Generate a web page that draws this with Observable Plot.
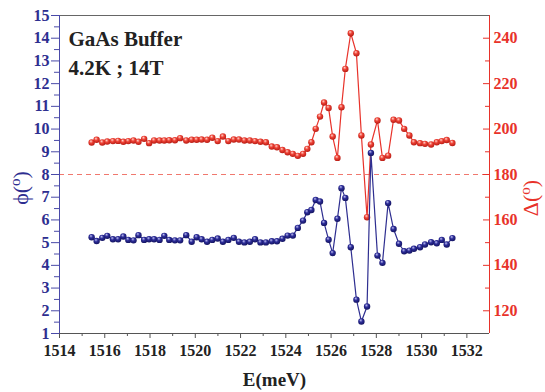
<!DOCTYPE html>
<html><head><meta charset="utf-8">
<script src="https://cdn.jsdelivr.net/npm/d3@7"></script>
<script src="https://cdn.jsdelivr.net/npm/@observablehq/plot@0.6"></script>
<style>body{margin:0;background:#fff} svg{display:block}</style>
</head><body><div id="chart"></div>
<script>
// E (meV)
const energy = [1515.42,1515.64,1515.89,1516.11,1516.36,1516.59,1516.82,1517.04,1517.27,1517.49,
1517.74,1517.96,1518.18,1518.42,1518.63,1518.85,1519.10,1519.33,1519.60,1519.84,
1520.06,1520.28,1520.52,1520.75,1520.99,1521.22,1521.46,1521.70,1521.93,1522.17,
1522.41,1522.64,1522.88,1523.12,1523.38,1523.61,1523.85,1524.08,1524.31,1524.53,
1524.76,1524.95,1525.13,1525.32,1525.51,1525.69,1525.89,1526.07,1526.28,1526.46,
1526.63,1526.87,1527.12,1527.34,1527.59,1527.76,1528.05,1528.27,1528.52,1528.76,
1529.00,1529.23,1529.46,1529.66,1529.93,1530.15,1530.42,1530.67,1530.89,1531.11,1531.36];
// phi (deg), left axis
const phi = [5.24,5.07,5.21,5.30,5.15,5.15,5.27,5.12,5.10,5.33,
5.12,5.15,5.15,5.12,5.30,5.12,5.10,5.10,5.33,5.04,
5.24,5.15,5.04,5.12,5.18,5.04,5.12,5.21,5.04,5.01,
5.04,5.15,5.01,5.01,5.06,5.06,5.17,5.31,5.31,5.65,
5.97,6.34,6.44,6.88,6.81,5.87,5.13,4.54,6.05,7.40,
6.97,4.80,2.49,1.53,2.19,8.95,4.43,4.11,6.74,5.60,
4.95,4.62,4.65,4.73,4.80,4.92,5.02,4.97,5.12,4.92,5.20];
// Delta (deg), right axis
const delta = [194.1,195.3,194.1,194.5,194.7,194.8,194.4,194.7,195.0,194.4,
195.7,193.8,195.0,195.0,195.0,195.1,195.1,196.0,195.0,195.3,
195.3,195.4,195.3,196.2,194.7,196.7,194.7,195.4,195.4,195.0,
195.0,194.7,194.4,194.2,192.3,192.0,190.8,189.8,189.1,188.2,
189.1,191.3,194.2,200.1,205.5,211.7,209.3,196.7,187.3,209.6,
226.5,242.2,233.4,197.2,161.2,193.2,203.8,187.3,188.3,204.1,
203.8,200.1,197.2,194.2,193.8,193.5,193.2,194.2,194.7,195.2,193.9];

const xTicks = [1514,1516,1518,1520,1522,1524,1526,1528,1530,1532];
const xMinor = [1515,1517,1519,1521,1523,1525,1527,1529,1531];
const phiTicks = [1,2,3,4,5,6,7,8,9,10,11,12,13,14,15];
const deltaTicks = [120,140,160,180,200,220,240];
const deltaMinor = [130,150,170,190,210,230];
const refLine = [8];
const titleLines = ["GaAs Buffer\n4.2K ; 14T"];
const xLabel = "E(meV)";

// Right scale (Delta) mapped onto the left (phi) scale: 180° <-> 8°, 10° per unit
const toLeft = d => 8 + (d - 180) / 10;
const fromLeft = l => String(Math.round(180 + (l - 8) * 10));

const rows = energy.map((e, i) => ({e, phi: phi[i], delta: delta[i]}));

const navy = "#2e2e90", navyAxis = "#4a4aa8", red = "#e8322a";
const font = "'Liberation Serif', 'Times New Roman', serif";

const chart = Plot.plot({
  width: 545, height: 392,
  marginLeft: 59, marginRight: 56, marginTop: 15, marginBottom: 59,
  style: {fontFamily: font, background: "#fff"},
  x: {domain: [1514, 1533]},
  y: {domain: [1, 15]},
  marks: [
    Plot.ruleY(refLine, {stroke: "#f0786e", strokeDasharray: "5,4", strokeWidth: 1}),
    Plot.line(rows, {x: "e", y: d => toLeft(d.delta), stroke: red, strokeWidth: 1.2}),
    Plot.dot(rows, {x: "e", y: d => toLeft(d.delta), r: 3.2, fill: "url(#gRed)"}),
    Plot.line(rows, {x: "e", y: "phi", stroke: navy, strokeWidth: 1.2}),
    Plot.dot(rows, {x: "e", y: "phi", r: 3.2, fill: "url(#gBlue)"}),
    // frame lines
    Plot.ruleY([15], {stroke: "#666"}),
    Plot.ruleY([1], {stroke: "#555"}),
    Plot.ruleX([1514], {stroke: navyAxis}),
    Plot.ruleX([1533], {stroke: red}),
    // left axis
    Plot.axisY({anchor: "left", ticks: phiTicks, tickSize: 8, tickPadding: 2, stroke: navyAxis, fill: navy,
      fontWeight: "bold", fontSize: 16, label: null, tickFormat: d => String(d)}),
    Plot.axisY({anchor: "left", ticks: phiTicks.slice(0, -1).map(d => d + 0.5), tickSize: 5, stroke: navyAxis,
      tickFormat: () => "", label: null}),
    // right axis (inward ticks)
    Plot.tickY(deltaTicks.map(toLeft), {y: d => d, insetLeft: 424, stroke: red}),
    Plot.tickY(deltaMinor.map(toLeft), {y: d => d, insetLeft: 426, stroke: red}),
    Plot.axisY({anchor: "right", ticks: deltaTicks.map(toLeft), tickSize: 0, tickPadding: 4, fill: red,
      fontWeight: "bold", fontSize: 16, label: null, tickFormat: fromLeft}),
    // bottom axis
    Plot.axisX({ticks: xTicks, tickSize: 5, tickPadding: 6, stroke: "#555", fill: "#222",
      fontWeight: "bold", fontSize: 16, label: null, tickFormat: d => String(d)}),
    Plot.axisX({ticks: xMinor, tickSize: 3, stroke: "#555", tickFormat: () => "", label: null}),
    Plot.text([xLabel], {frameAnchor: "bottom", dy: 46, text: d => d, lineAnchor: "middle",
      fontWeight: "bold", fontSize: 19, fill: "#222"}),
    // annotation
    Plot.text(titleLines, {frameAnchor: "top-left", dx: 9, dy: 10, text: d => d, lineAnchor: "top",
      textAnchor: "start", fontWeight: "bold", fontSize: 21, lineHeight: 1.38, fill: "#222"})
  ]
});

const svg = d3.select(chart);
const defs = svg.insert("defs", ":first-child");
function grad(id, c0, c1, c2) {
  const g = defs.append("radialGradient").attr("id", id)
    .attr("cx", "0.45").attr("cy", "0.4").attr("r", "0.6").attr("fx", "0.38").attr("fy", "0.3");
  g.append("stop").attr("offset", "0").attr("stop-color", c0);
  g.append("stop").attr("offset", "0.45").attr("stop-color", c1);
  g.append("stop").attr("offset", "1").attr("stop-color", c2);
}
grad("gBlue", "#c0c0f2", "#2c2c98", "#141460");
grad("gRed", "#ffd4cc", "#ee4236", "#b81c14");

// rotated axis titles
function yTitle(x, y, main, color) {
  const t = svg.append("text").attr("transform", `translate(${x},${y}) rotate(-90)`)
    .attr("text-anchor", "middle").attr("font-family", font).attr("font-size", 22).attr("fill", color);
  t.append("tspan").text(main + "(");
  t.append("tspan").attr("font-size", 15).attr("dy", -8).text("o");
  t.append("tspan").attr("dy", 8).text(")");
}
yTitle(28, 188, "\u03D5", navy);
yTitle(538, 198, "\u0394", red);

document.getElementById("chart").append(chart);
</script>
</body></html>
